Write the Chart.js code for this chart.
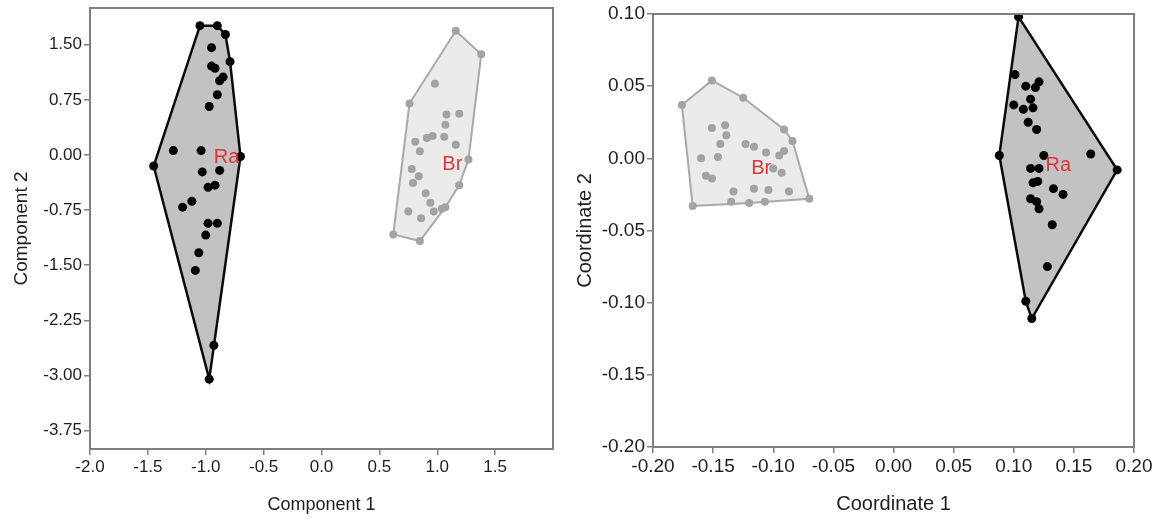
<!DOCTYPE html>
<html>
<head>
<meta charset="utf-8">
<script src="https://cdn.jsdelivr.net/npm/chart.js@4.4.1/dist/chart.umd.min.js"></script>
<style>
  html, body { margin: 0; padding: 0; background: #fff; }
  #wrap { position: relative; width: 1159px; height: 519px; }
  canvas { position: absolute; top: 0; }
  #pca { left: 0; }
  #pcoa { left: 563px; }
</style>
</head>
<body>
<div id="wrap">
  <canvas id="pca" width="562" height="519"></canvas>
  <canvas id="pcoa" width="596" height="519"></canvas>
</div>
<script>
const groupNames = ['Ra', 'Br'];

// left panel : components
const pcaRaX = [-1.05, -0.90, -0.83, -0.95, -0.79, -0.95, -0.92, -0.85, -0.88, -0.90, -0.97, -1.28, -1.04, -1.45,
    -0.70, -1.03, -0.88, -0.98, -0.92, -1.12, -1.20, -0.98, -0.90, -1.00, -1.06, -1.09, -0.93, -0.97];
const pcaRaY = [1.76, 1.76, 1.64, 1.46, 1.27, 1.21, 1.18, 1.06, 1.01, 0.82, 0.66, 0.06, 0.06, -0.15,
    -0.02, -0.23, -0.21, -0.44, -0.41, -0.63, -0.71, -0.93, -0.93, -1.09, -1.33, -1.57, -2.59, -3.05];
const pcaBrX = [1.16, 1.38, 1.27, 1.19, 1.07, 0.85, 0.62, 0.76, 0.98, 1.08, 1.19, 1.07, 1.06, 0.96,
    0.91, 0.81, 0.85, 1.16, 0.78, 0.84, 0.79, 0.90, 0.94, 0.97, 1.04, 0.75, 0.86];
const pcaBrY = [1.69, 1.37, -0.06, -0.41, -0.71, -1.17, -1.08, 0.70, 0.97, 0.55, 0.56, 0.41, 0.25, 0.26,
    0.23, 0.18, 0.05, 0.14, -0.19, -0.29, -0.38, -0.52, -0.65, -0.77, -0.73, -0.77, -0.86];
const pcaLabelX = [-0.82, 1.13];
const pcaLabelY = [-0.03, -0.13];
const pcaTicksX = [-2.0, -1.5, -1.0, -0.5, 0.0, 0.5, 1.0, 1.5];
const pcaTicksY = [1.5, 0.75, 0, -0.75, -1.5, -2.25, -3.0, -3.75];

// right panel : coordinates
const pcoaRaX = [0.104, 0.186, 0.115, 0.088, 0.101, 0.110, 0.118, 0.121, 0.100, 0.108, 0.114, 0.116, 0.112, 0.119,
    0.125, 0.164, 0.114, 0.121, 0.116, 0.120, 0.133, 0.141, 0.114, 0.119, 0.121, 0.132, 0.128, 0.110];
const pcoaRaY = [0.098, -0.008, -0.111, 0.002, 0.058, 0.050, 0.049, 0.053, 0.037, 0.034, 0.041, 0.035, 0.025, 0.020,
    0.002, 0.003, -0.007, -0.007, -0.017, -0.016, -0.021, -0.025, -0.028, -0.030, -0.035, -0.046, -0.075, -0.099];
const pcoaBrX = [-0.176, -0.151, -0.125, -0.091, -0.084, -0.070, -0.167, -0.151, -0.140, -0.139, -0.144, -0.160, -0.146,
    -0.156, -0.151, -0.123, -0.116, -0.106, -0.095, -0.091, -0.100, -0.093, -0.133, -0.116, -0.104, -0.087,
    -0.135, -0.120, -0.107];
const pcoaBrY = [0.037, 0.054, 0.042, 0.020, 0.012, -0.028, -0.033, 0.021, 0.023, 0.016, 0.010, 0.000, 0.001,
    -0.012, -0.014, 0.010, 0.008, 0.004, 0.002, 0.005, -0.007, -0.010, -0.023, -0.021, -0.022, -0.023,
    -0.030, -0.031, -0.030];
const pcoaLabelX = [0.137, -0.110];
const pcoaLabelY = [-0.005, -0.007];
const pcoaTicksX = [-0.20, -0.15, -0.10, -0.05, 0.00, 0.05, 0.10, 0.15, 0.20];
const pcoaTicksY = [0.10, 0.05, 0.00, -0.05, -0.10, -0.15, -0.20];

const FONT = '"Liberation Sans", Arial, sans-serif';

function toPoints(xs, ys) {
    return xs.map((x, i) => ({ x: x, y: ys[i] }));
}

// enveloppe convexe (monotone chain), fermée
function convexHull(pts) {
    const p = pts.slice().sort((a, b) => a.x - b.x || a.y - b.y);
    const cross = (o, a, b) => (a.x - o.x) * (b.y - o.y) - (a.y - o.y) * (b.x - o.x);
    const lower = [];
    for (const q of p) {
        while (lower.length >= 2 && cross(lower[lower.length - 2], lower[lower.length - 1], q) <= 0) lower.pop();
        lower.push(q);
    }
    const upper = [];
    for (let i = p.length - 1; i >= 0; i--) {
        const q = p[i];
        while (upper.length >= 2 && cross(upper[upper.length - 2], upper[upper.length - 1], q) <= 0) upper.pop();
        upper.push(q);
    }
    lower.pop();
    upper.pop();
    const hull = lower.concat(upper);
    hull.push(hull[0]);
    return hull;
}

const framePlugin = {
    id: 'frame',
    afterDraw(chart) {
        const { ctx, chartArea: a } = chart;
        ctx.save();
        ctx.strokeStyle = '#7f7f7f';
        ctx.lineWidth = 2;
        ctx.strokeRect(a.left, a.top, a.right - a.left, a.bottom - a.top);
        ctx.restore();
    }
};

const labelPlugin = {
    id: 'groupLabels',
    afterDatasetsDraw(chart, args, opts) {
        const { ctx, scales } = chart;
        ctx.save();
        ctx.font = opts.size + 'px ' + FONT;
        ctx.fillStyle = '#e0363b';
        ctx.textAlign = 'center';
        ctx.textBaseline = 'middle';
        opts.names.forEach((n, i) => {
            ctx.fillText(n, scales.x.getPixelForValue(opts.xs[i]), scales.y.getPixelForValue(opts.ys[i]));
        });
        ctx.restore();
    }
};

function axis(min, max, ticks, decimals, title, tickSize, titleSize, fixed, horizontal) {
    return {
        type: 'linear',
        min: min,
        max: max,
        afterBuildTicks: s => { s.ticks = ticks.map(v => ({ value: v })); },
        afterFit: s => {
            if (horizontal) {
                s.height = fixed; s.paddingLeft = 0; s.paddingRight = 0;
            } else {
                s.width = fixed; s.paddingTop = 0; s.paddingBottom = 0;
            }
        },
        ticks: {
            callback: v => Number(v).toFixed(decimals),
            font: { family: FONT, size: tickSize },
            color: '#1e1e1e',
            padding: 2,
            autoSkip: false,
            maxRotation: 0,
            minRotation: 0
        },
        grid: { drawOnChartArea: false, drawTicks: true, tickLength: 6, color: '#7f7f7f', lineWidth: 1.5 },
        border: { display: true, color: '#7f7f7f', width: 2 },
        title: {
            display: true,
            text: title,
            color: '#1e1e1e',
            font: { family: FONT, size: titleSize },
            padding: horizontal ? { top: 0, bottom: 3 } : { top: 10, bottom: 0 }
        }
    };
}

function hullSet(pts, line, fill, width) {
    return {
        data: convexHull(pts),
        showLine: true,
        fill: 'shape',
        borderColor: line,
        backgroundColor: fill,
        borderWidth: width,
        pointRadius: 0,
        tension: 0,
        order: 2
    };
}

function pointSet(pts, color, r) {
    return {
        data: pts,
        showLine: false,
        backgroundColor: color,
        borderColor: color,
        pointRadius: r,
        pointBorderWidth: 0,
        order: 1
    };
}

function createPanel(id, raPts, brPts, sc, labels, pad) {
    const ctx = document.getElementById(id).getContext('2d');
    return new Chart(ctx, {
        type: 'scatter',
        data: {
            datasets: [
                pointSet(raPts, '#000000', 4.5),
                pointSet(brPts, '#a3a3a3', 4),
                hullSet(raPts, '#0a0a0a', '#c2c2c2', 2.5),
                hullSet(brPts, '#a9a9a9', '#ebebeb', 2)
            ]
        },
        options: {
            responsive: false,
            animation: false,
            events: [],
            layout: { padding: pad },
            scales: sc,
            plugins: {
                legend: { display: false },
                tooltip: { enabled: false },
                groupLabels: labels
            }
        },
        plugins: [labelPlugin, framePlugin]
    });
}

createPanel('pca',
    toPoints(pcaRaX, pcaRaY),
    toPoints(pcaBrX, pcaBrY),
    {
        x: axis(-2, 2, pcaTicksX, 1, 'Component 1', 17, 18, 70, true),
        y: axis(-4, 2, pcaTicksY, 2, 'Component 2', 17, 19, 90, false)
    },
    { names: groupNames, xs: pcaLabelX, ys: pcaLabelY, size: 20 },
    { top: 8, right: 9, left: 0, bottom: 0 });

createPanel('pcoa',
    toPoints(pcoaRaX, pcoaRaY),
    toPoints(pcoaBrX, pcoaBrY),
    {
        x: axis(-0.2, 0.2, pcoaTicksX, 2, 'Coordinate 1', 19, 20, 72, true),
        y: axis(-0.2, 0.1, pcoaTicksY, 2, 'Coordinate 2', 19, 20, 90, false)
    },
    { names: groupNames, xs: pcoaLabelX, ys: pcoaLabelY, size: 20 },
    { top: 14, right: 25, left: 0, bottom: 0 });
</script>
</body>
</html>
